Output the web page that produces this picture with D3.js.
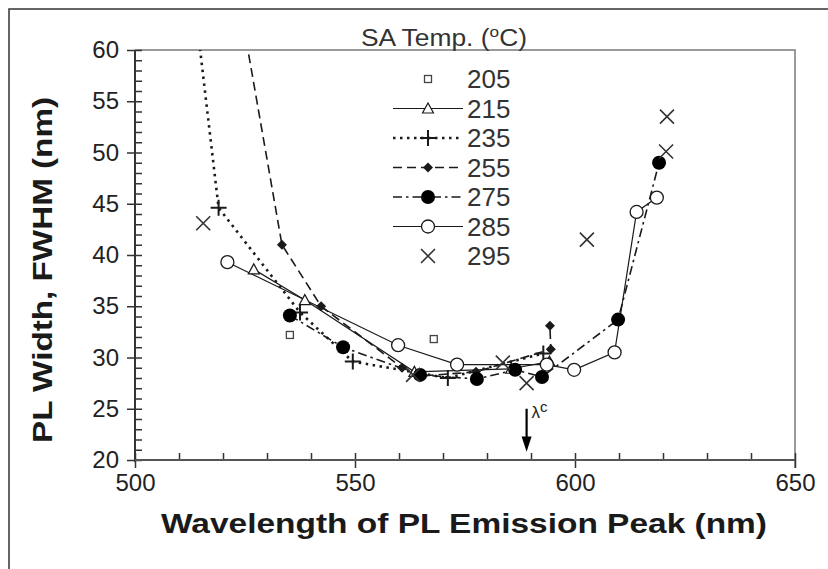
<!DOCTYPE html>
<html>
<head>
<meta charset="utf-8">
<script src="https://cdn.jsdelivr.net/npm/d3@7"></script>
<style>
  body { margin: 0; background: #fff; }
  svg { display: block; font-family: 'Liberation Sans', Arial, sans-serif; }
  .tick text { font-size: 24px; fill: #222; }
</style>
</head>
<body>
<div id="plot"></div>
<script>
'use strict';

// values: [wavelength nm, FWHM nm]
const temps = ['205', '215', '235', '255', '275', '285', '295'];
const s205 = [[535.2, 32.2], [567.9, 31.8]];
const s215 = [[527.0, 38.6], [538.6, 35.6], [563.5, 28.6], [585.5, 28.9], [594.2, 29.6]];
const s235 = [[512.0, 70.3], [519.0, 44.6], [537.5, 34.4], [549.5, 29.6], [571.1, 28.0], [592.8, 30.4]];
const s255 = [[522.0, 69.0], [533.4, 41.0], [542.3, 35.0], [560.7, 29.0], [565.2, 28.2], [577.5, 28.6], [594.5, 30.8], [594.3, 33.1]];
const s275 = [[535.2, 34.1], [547.3, 31.0], [564.8, 28.3], [577.7, 27.9], [586.4, 28.8], [592.5, 28.1], [609.8, 33.7], [619.1, 49.0]];
const s285 = [[521.0, 39.3], [559.8, 31.2], [573.2, 29.3], [593.6, 29.3], [599.8, 28.8], [609.0, 30.5], [614.0, 44.2], [618.6, 45.6]];
const s295 = [[515.5, 43.1], [563.2, 28.3], [583.6, 29.5], [589.0, 27.5], [602.7, 41.5], [620.7, 50.1], [620.9, 53.5]];
const xTicks = [500, 550, 600, 650];
const yTicks = [20, 25, 30, 35, 40, 45, 50, 55, 60];
const lambdaC = 589;

const seriesData = [s205, s215, s235, s255, s275, s285, s295];

// how each series is drawn
const styles = {
    '205': { line: null, marker: 'square' },
    '215': { line: { w: 1.2, dash: null }, marker: 'triangle' },
    '235': { line: { w: 2.6, dash: '2.5,4.5' }, marker: 'plus' },
    '255': { line: { w: 1.6, dash: '9,5' }, marker: 'diamond' },
    '275': { line: { w: 1.6, dash: '9,4,2.5,4' }, marker: 'dot' },
    '285': { line: { w: 1.2, dash: null }, marker: 'circle' },
    '295': { line: null, marker: 'cross' }
};

const width = 828, height = 569;
const plot = { left: 135, right: 795, top: 50, bottom: 460 };
const ink = '#1a1a1a';

const svg = d3.select('#plot').append('svg')
    .attr('width', width)
    .attr('height', height);

// outer border of the figure
svg.append('rect')
    .attr('x', 9).attr('y', 9)
    .attr('width', 840).attr('height', 600)
    .attr('fill', 'none')
    .attr('stroke', '#333')
    .attr('stroke-width', 1.5);

const x = d3.scaleLinear().domain([500, 650]).range([plot.left, plot.right]);
const y = d3.scaleLinear().domain([20, 60]).range([plot.bottom, plot.top]);

// frame top and right
svg.append('path')
    .attr('d', `M${plot.left},${plot.top}H${plot.right}V${plot.bottom + 8}`)
    .attr('fill', 'none')
    .attr('stroke', '#7a7a7a')
    .attr('stroke-width', 1.5);

// y axis: labelled majors to the left, every unit to the right
svg.append('g')
    .attr('transform', `translate(${plot.left},0)`)
    .call(d3.axisLeft(y).tickValues(yTicks).tickSize(8).tickPadding(8))
    .call(g => g.select('.domain').remove());
svg.append('g')
    .attr('transform', `translate(${plot.left},0)`)
    .call(d3.axisRight(y).tickValues(d3.range(20, 61, 1)).tickSize(7).tickFormat(''))
    .call(g => g.select('.domain').remove());

// x axis: labelled majors below, every 10 nm above
svg.append('g')
    .attr('transform', `translate(0,${plot.bottom})`)
    .call(d3.axisBottom(x).tickValues(xTicks).tickSize(8).tickPadding(6))
    .call(g => g.select('.domain').remove());
svg.append('g')
    .attr('transform', `translate(0,${plot.bottom})`)
    .call(d3.axisTop(x).tickValues(d3.range(500, 651, 10)).tickSize(7).tickFormat(''))
    .call(g => g.select('.domain').remove());

svg.selectAll('.tick line').attr('stroke', '#333').attr('stroke-width', 1.5);

svg.append('line')
    .attr('x1', plot.left).attr('x2', plot.left)
    .attr('y1', plot.top).attr('y2', plot.bottom + 2)
    .attr('stroke', '#333').attr('stroke-width', 2);
svg.append('line')
    .attr('x1', plot.left).attr('x2', plot.right)
    .attr('y1', plot.bottom).attr('y2', plot.bottom)
    .attr('stroke', '#555').attr('stroke-width', 2);

// axis titles
svg.append('text')
    .attr('x', 464).attr('y', 533)
    .attr('text-anchor', 'middle')
    .attr('font-size', 28).attr('font-weight', 'bold').attr('fill', ink)
    .attr('textLength', 606).attr('lengthAdjust', 'spacingAndGlyphs')
    .text('Wavelength of PL Emission Peak (nm)');
svg.append('text')
    .attr('transform', 'translate(52,270) rotate(-90)')
    .attr('text-anchor', 'middle')
    .attr('font-size', 28).attr('font-weight', 'bold').attr('fill', ink)
    .attr('textLength', 346).attr('lengthAdjust', 'spacingAndGlyphs')
    .text('PL Width, FWHM (nm)');

// markers
function marker(sel, kind) {
    switch (kind) {
        case 'square':
            sel.append('rect').attr('x', -3.5).attr('y', -3.5).attr('width', 7).attr('height', 7)
                .attr('fill', '#fff').attr('stroke', '#444').attr('stroke-width', 1.3);
            break;
        case 'triangle':
            sel.append('path').attr('d', 'M0,-5.5L5.5,4.5H-5.5Z')
                .attr('fill', '#fff').attr('stroke', ink).attr('stroke-width', 1.2);
            break;
        case 'plus':
            sel.append('path').attr('d', 'M-8,0H8M0,-8V8')
                .attr('stroke', ink).attr('stroke-width', 2);
            break;
        case 'diamond':
            sel.append('path').attr('d', 'M0,-5L5,0L0,5L-5,0Z')
                .attr('fill', ink);
            break;
        case 'dot':
            sel.append('circle').attr('r', 7).attr('fill', '#000');
            break;
        case 'circle':
            sel.append('circle').attr('r', 6.5)
                .attr('fill', '#fff').attr('stroke', ink).attr('stroke-width', 1.3);
            break;
        case 'cross':
            sel.append('path').attr('d', 'M-7,-7L7,7M7,-7L-7,7')
                .attr('stroke', '#333').attr('stroke-width', 1.6);
            break;
    }
}

svg.append('clipPath').attr('id', 'clip')
    .append('rect')
    .attr('x', plot.left).attr('y', plot.top)
    .attr('width', plot.right - plot.left).attr('height', plot.bottom - plot.top);

const lineGen = d3.line().x(d => x(d[0])).y(d => y(d[1]));
const lineLayer = svg.append('g').attr('clip-path', 'url(#clip)');
const markLayer = svg.append('g').attr('clip-path', 'url(#clip)');

temps.forEach((t, i) => {
    const st = styles[t];
    if (st.line) {
        lineLayer.append('path')
            .datum(seriesData[i])
            .attr('d', lineGen)
            .attr('fill', 'none')
            .attr('stroke', ink)
            .attr('stroke-width', st.line.w)
            .attr('stroke-dasharray', st.line.dash);
    }
    markLayer.append('g').selectAll('g')
        .data(seriesData[i].filter(d => d[1] <= 60))
        .join('g')
        .attr('transform', d => `translate(${x(d[0])},${y(d[1])})`)
        .each(function() { marker(d3.select(this), st.marker); });
});

// legend
const legend = svg.append('g');
const title = legend.append('text')
    .attr('x', 444).attr('y', 46)
    .attr('text-anchor', 'middle')
    .attr('font-size', 23).attr('fill', '#333')
    .attr('textLength', 166).attr('lengthAdjust', 'spacingAndGlyphs');
title.append('tspan').text('SA Temp. (');
title.append('tspan').attr('font-size', 15).attr('dy', -9).text('o');
title.append('tspan').attr('dy', 9).text('C)');

const rowY = d3.scalePoint().domain(temps).range([79, 256]);
temps.forEach(t => {
    const st = styles[t];
    const row = legend.append('g').attr('transform', `translate(0,${rowY(t)})`);
    if (st.line) {
        row.append('line')
            .attr('x1', 393).attr('x2', 463)
            .attr('stroke', ink)
            .attr('stroke-width', st.line.w)
            .attr('stroke-dasharray', st.line.dash);
    }
    const m = row.append('g').attr('transform', 'translate(428,0)');
    marker(m, st.marker);
    row.append('text')
        .attr('x', 467).attr('dy', '0.36em')
        .attr('font-size', 26).attr('fill', '#333')
        .text(t);
});

// lambda c arrow
const arrowX = x(lambdaC);
svg.append('line')
    .attr('x1', arrowX).attr('x2', arrowX)
    .attr('y1', y(25)).attr('y2', y(21.8))
    .attr('stroke', '#000').attr('stroke-width', 2.2);
svg.append('path')
    .attr('d', `M${arrowX - 5},${y(22.3)}L${arrowX + 5},${y(22.3)}L${arrowX},${y(20.8)}Z`)
    .attr('fill', '#000');
const lam = svg.append('text')
    .attr('x', arrowX + 5).attr('y', y(24.1))
    .attr('font-size', 17).attr('fill', '#222');
lam.append('tspan').text('λ');
lam.append('tspan').attr('dy', -6).attr('font-size', 15).text('c');
</script>
</body>
</html>
